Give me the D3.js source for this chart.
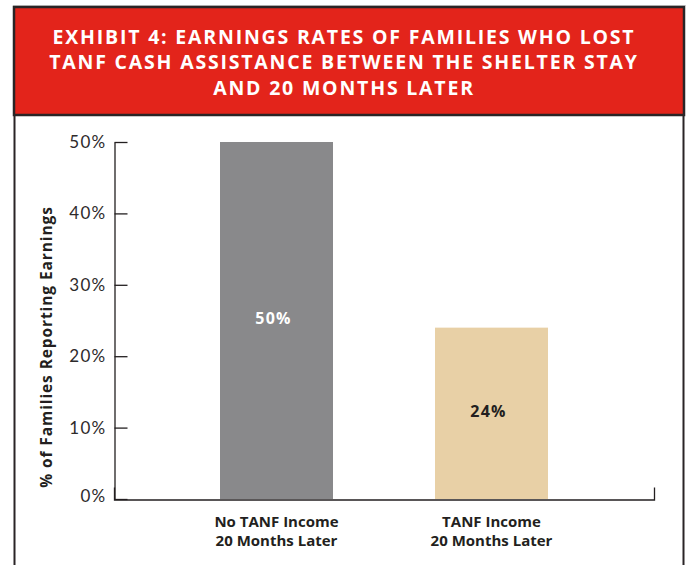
<!DOCTYPE html>
<html>
<head>
<meta charset="utf-8">
<script src="https://cdn.jsdelivr.net/npm/d3@7"></script>
<style>
  body { margin: 0; background: #fff; }
  svg { display: block; }
</style>
</head>
<body>
<svg id="chart" width="686" height="565"></svg>
<script>
// data
const titleLines = [
  "EXHIBIT 4: EARNINGS RATES OF FAMILIES WHO LOST",
  "TANF CASH ASSISTANCE BETWEEN THE SHELTER STAY",
  "AND 20 MONTHS LATER"
];
const categories = ["No TANF Income\n20 Months Later", "TANF Income\n20 Months Later"];
const values = [0.50, 0.24];
const barColors = ["#89898b", "#e8d0a6"];
const labelColors = ["#ffffff", "#231f20"];
const yTicks = [0, 0.1, 0.2, 0.3, 0.4, 0.5];
const yTitle = "% of Families Reporting Earnings";

const svg = d3.select("#chart");
const ink = "#231f20";

// frame + header
svg.append("line")
    .attr("x1", 13).attr("x2", 686).attr("y1", 5.5).attr("y2", 5.5)
    .attr("stroke", "#d8d8d8");
svg.append("rect")
    .attr("x", 14).attr("y", 7).attr("width", 670).attr("height", 108)
    .attr("fill", "#e3241b")
    .attr("stroke", "#2a2426").attr("stroke-width", 2.5);
svg.append("path")
    .attr("d", "M14.5,115V570M683.5,115V570")
    .attr("stroke", "#2a2426").attr("stroke-width", 2);

svg.append("g").selectAll("text")
    .data(titleLines)
  .join("text")
    .attr("x", 344)
    .attr("y", (d, i) => 43.5 + i * 25.5)
    .attr("text-anchor", "middle")
    .attr("fill", "#fff")
    .attr("font-family", "'Open Sans', sans-serif")
    .attr("font-weight", 700)
    .attr("font-size", 19.5)
    .attr("letter-spacing", 1.8)
    .text(d => d);

// scales
const x = d3.scaleBand()
    .domain(categories)
    .range([114, 654])
    .paddingInner(0.4744)
    .paddingOuter(0.493);

const y = d3.scaleLinear()
    .domain([0, 0.5])
    .range([499, 142]);

// bars
svg.append("g").selectAll("rect")
    .data(values)
  .join("rect")
    .attr("x", (d, i) => x(categories[i]))
    .attr("y", d => y(d))
    .attr("width", x.bandwidth())
    .attr("height", d => y(0) - y(d))
    .attr("fill", (d, i) => barColors[i]);

svg.append("g").selectAll("text")
    .data(values)
  .join("text")
    .attr("x", (d, i) => x(categories[i]) + x.bandwidth() / 2 - 3)
    .attr("y", d => (y(d) + y(0)) / 2)
    .attr("dy", "0.2em")
    .attr("text-anchor", "middle")
    .attr("fill", (d, i) => labelColors[i])
    .attr("font-family", "'Open Sans', sans-serif")
    .attr("font-weight", 700)
    .attr("font-size", 16)
    .attr("letter-spacing", 1.2)
    .text(d3.format(".0%"));

// y axis
const yAxis = svg.append("g")
    .attr("transform", "translate(114.5,0)")
    .call(d3.axisLeft(y)
        .tickValues(yTicks)
        .tickFormat(d3.format(".0%"))
        .tickSizeInner(-13)
        .tickSizeOuter(0)
        .tickPadding(8));

yAxis.selectAll("path, line").attr("stroke", ink).attr("stroke-width", 1.3);
yAxis.selectAll("text")
    .attr("fill", "#2e2a2b")
    .attr("font-family", "Lato, sans-serif")
    .attr("font-weight", 400)
    .attr("font-size", 17)
    .attr("letter-spacing", 1.3);
yAxis.select(".tick text").attr("dy", "0.15em");

// x axis
const xAxis = svg.append("g")
    .attr("transform", "translate(0,499.5)")
    .call(d3.axisBottom(x)
        .tickSizeInner(0)
        .tickSizeOuter(-12)
        .tickPadding(27.5));

xAxis.selectAll("path").attr("stroke", ink).attr("stroke-width", 1.3);
xAxis.selectAll("text")
    .attr("fill", ink)
    .attr("font-family", "'Open Sans', sans-serif")
    .attr("font-weight", 700)
    .attr("font-size", 15)
    .each(function(d) {
        const t = d3.select(this).text("");
        d.split("\n").forEach((line, i) => {
            t.append("tspan")
                .attr("x", 0)
                .attr("dy", i ? 18.5 : 0)
                .text(line);
        });
    });

// y title
svg.append("text")
    .attr("transform", "translate(52,347) rotate(-90)")
    .attr("text-anchor", "middle")
    .attr("fill", ink)
    .attr("font-family", "'Open Sans', sans-serif")
    .attr("font-weight", 700)
    .attr("font-size", 15.5)
    .attr("letter-spacing", 0.9)
    .text(yTitle);
</script>
</body>
</html>
